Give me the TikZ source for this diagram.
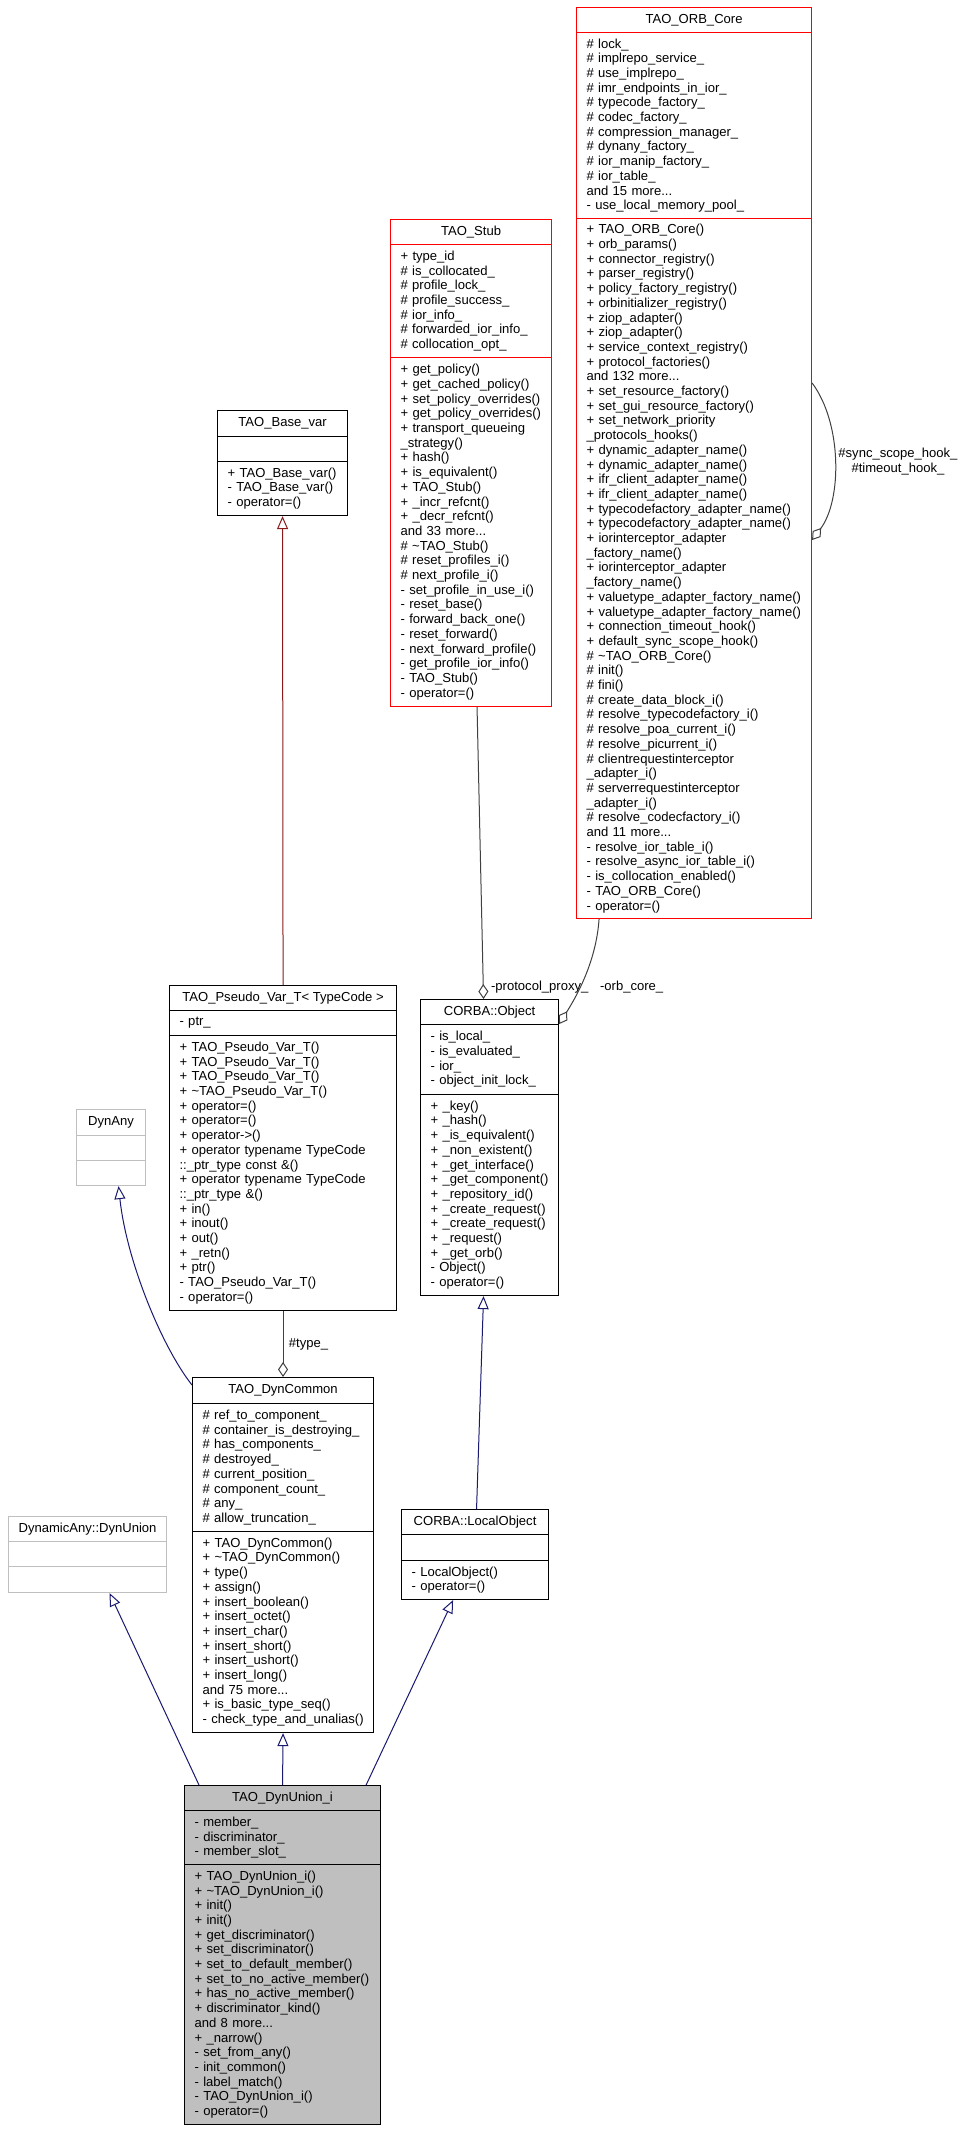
\documentclass[tikz,border=0pt]{standalone}
\usepackage{fontspec}
\setmainfont{Liberation Sans}
\usepackage{tikz}
\usetikzlibrary{arrows.meta}
\usetikzlibrary{calc}
\definecolor{classred}{HTML}{FF0000}
\definecolor{classgray}{HTML}{BFBFBF}
\definecolor{edgeblue}{HTML}{191970}
\definecolor{edgered}{HTML}{8B1A1A}
\definecolor{edgegray}{HTML}{404040}
\newcommand{\dxfont}{\fontsize{13.06}{14.7}\selectfont}
\exhyphenpenalty=10000
\hyphenpenalty=10000
\tikzset{
    classtitle/.style={draw, line width=1.1pt, anchor=north west, inner sep=0pt, minimum height=25pt, align=center},
    classbody/.style={draw, line width=1.1pt, anchor=north west, inner xsep=10pt, inner ysep=0pt, align=left},
    inherit/.style={draw=edgeblue, line width=1pt, -{Triangle[open,length=13pt,width=11pt]}},
    privinherit/.style={inherit, draw=edgered},
    usage/.style={draw=edgegray, line width=1pt, -{Diamond[open,length=15pt,width=10pt]}},
}

\begin{document}
\begin{tikzpicture}[x=1pt,y=-1pt,every node/.append style={font=\dxfont}]
        \useasboundingbox (0,0) rectangle (964,2131);

        %%% TAO_ORB_Core %%%
        \node[classtitle,draw=classred,minimum width=235pt] (orbcore) at (576,7) {TAO\_ORB\_Core};
        \node[classbody,draw=classred,text width=215pt,minimum height=186pt] (orbcore-attr) at (576,32) {\#~lock\_\\
\#~implrepo\_service\_\\
\#~use\_implrepo\_\\
\#~imr\_endpoints\_in\_ior\_\\
\#~typecode\_factory\_\\
\#~codec\_factory\_\\
\#~compression\_manager\_\\
\#~dynany\_factory\_\\
\#~ior\_manip\_factory\_\\
\#~ior\_table\_\\
and 15 more...\\
-~use\_local\_memory\_pool\_};
        \node[classbody,draw=classred,text width=215pt,minimum height=700pt] (orbcore-meth) at (576,218) {+~TAO\_ORB\_Core()\\
+~orb\_params()\\
+~connector\_registry()\\
+~parser\_registry()\\
+~policy\_factory\_registry()\\
+~orbinitializer\_registry()\\
+~ziop\_adapter()\\
+~ziop\_adapter()\\
+~service\_context\_registry()\\
+~protocol\_factories()\\
and 132 more...\\
+~set\_resource\_factory()\\
+~set\_gui\_resource\_factory()\\
+~set\_network\_priority\\
\_protocols\_hooks()\\
+~dynamic\_adapter\_name()\\
+~dynamic\_adapter\_name()\\
+~ifr\_client\_adapter\_name()\\
+~ifr\_client\_adapter\_name()\\
+~typecodefactory\_adapter\_name()\\
+~typecodefactory\_adapter\_name()\\
+~iorinterceptor\_adapter\\
\_factory\_name()\\
+~iorinterceptor\_adapter\\
\_factory\_name()\\
+~valuetype\_adapter\_factory\_name()\\
+~valuetype\_adapter\_factory\_name()\\
+~connection\_timeout\_hook()\\
+~default\_sync\_scope\_hook()\\
\#~\textasciitilde TAO\_ORB\_Core()\\
\#~init()\\
\#~fini()\\
\#~create\_data\_block\_i()\\
\#~resolve\_typecodefactory\_i()\\
\#~resolve\_poa\_current\_i()\\
\#~resolve\_picurrent\_i()\\
\#~clientrequestinterceptor\\
\_adapter\_i()\\
\#~serverrequestinterceptor\\
\_adapter\_i()\\
\#~resolve\_codecfactory\_i()\\
and 11 more...\\
-~resolve\_ior\_table\_i()\\
-~resolve\_async\_ior\_table\_i()\\
-~is\_collocation\_enabled()\\
-~TAO\_ORB\_Core()\\
-~operator=()};

        %%% TAO_Stub %%%
        \node[classtitle,draw=classred,minimum width=161pt] (stub) at (390,219) {TAO\_Stub};
        \node[classbody,draw=classred,text width=141pt,minimum height=113pt] (stub-attr) at (390,244) {+~type\_id\\
\#~is\_collocated\_\\
\#~profile\_lock\_\\
\#~profile\_success\_\\
\#~ior\_info\_\\
\#~forwarded\_ior\_info\_\\
\#~collocation\_opt\_};
        \node[classbody,draw=classred,text width=141pt,minimum height=349pt] (stub-meth) at (390,357) {+~get\_policy()\\
+~get\_cached\_policy()\\
+~set\_policy\_overrides()\\
+~get\_policy\_overrides()\\
+~transport\_queueing\\
\_strategy()\\
+~hash()\\
+~is\_equivalent()\\
+~TAO\_Stub()\\
+~\_incr\_refcnt()\\
+~\_decr\_refcnt()\\
and 33 more...\\
\#~\textasciitilde TAO\_Stub()\\
\#~reset\_profiles\_i()\\
\#~next\_profile\_i()\\
-~set\_profile\_in\_use\_i()\\
-~reset\_base()\\
-~forward\_back\_one()\\
-~reset\_forward()\\
-~next\_forward\_profile()\\
-~get\_profile\_ior\_info()\\
-~TAO\_Stub()\\
-~operator=()};

        %%% TAO_Base_var %%%
        \node[classtitle,minimum width=130pt,minimum height=26pt] (basevar) at (217,410) {TAO\_Base\_var};
        \node[classbody,text width=110pt,minimum height=25pt] (basevar-attr) at (217,436) {};
        \node[classbody,text width=110pt,minimum height=54pt] (basevar-meth) at (217,461) {+~TAO\_Base\_var()\\
-~TAO\_Base\_var()\\
-~operator=()};

        %%% TAO_Pseudo_Var_T %%%
        \node[classtitle,minimum width=227pt] (pseudovar) at (169,985) {TAO\_Pseudo\_Var\_T< TypeCode >};
        \node[classbody,text width=207pt,minimum height=25pt] (pseudovar-attr) at (169,1010) {-~ptr\_};
        \node[classbody,text width=207pt,minimum height=275pt] (pseudovar-meth) at (169,1035) {+~TAO\_Pseudo\_Var\_T()\\
+~TAO\_Pseudo\_Var\_T()\\
+~TAO\_Pseudo\_Var\_T()\\
+~\textasciitilde TAO\_Pseudo\_Var\_T()\\
+~operator=()\\
+~operator=()\\
+~operator->()\\
+~operator typename TypeCode\\
::\_ptr\_type const \&()\\
+~operator typename TypeCode\\
::\_ptr\_type \&()\\
+~in()\\
+~inout()\\
+~out()\\
+~\_retn()\\
+~ptr()\\
-~TAO\_Pseudo\_Var\_T()\\
-~operator=()};

        %%% CORBA::Object %%%
        \node[classtitle,minimum width=138pt] (object) at (420,999) {CORBA::Object};
        \node[classbody,text width=118pt,minimum height=70pt] (object-attr) at (420,1024) {-~is\_local\_\\
-~is\_evaluated\_\\
-~ior\_\\
-~object\_init\_lock\_};
        \node[classbody,text width=118pt,minimum height=201pt] (object-meth) at (420,1094) {+~\_key()\\
+~\_hash()\\
+~\_is\_equivalent()\\
+~\_non\_existent()\\
+~\_get\_interface()\\
+~\_get\_component()\\
+~\_repository\_id()\\
+~\_create\_request()\\
+~\_create\_request()\\
+~\_request()\\
+~\_get\_orb()\\
-~Object()\\
-~operator=()};

        %%% DynAny %%%
        \node[classtitle,draw=classgray,minimum width=69pt,minimum height=26pt] (dynany) at (76,1109) {DynAny};
        \node[classbody,draw=classgray,text width=49pt,minimum height=25pt] (dynany-attr) at (76,1135) {};
        \node[classbody,draw=classgray,text width=49pt,minimum height=25pt] (dynany-meth) at (76,1160) {};

        %%% TAO_DynCommon %%%
        \node[classtitle,minimum width=181pt,minimum height=26pt] (dyncommon) at (192,1377) {TAO\_DynCommon};
        \node[classbody,text width=161pt,minimum height=128pt] (dyncommon-attr) at (192,1403) {\#~ref\_to\_component\_\\
\#~container\_is\_destroying\_\\
\#~has\_components\_\\
\#~destroyed\_\\
\#~current\_position\_\\
\#~component\_count\_\\
\#~any\_\\
\#~allow\_truncation\_};
        \node[classbody,text width=161pt,minimum height=201pt] (dyncommon-meth) at (192,1531) {+~TAO\_DynCommon()\\
+~\textasciitilde TAO\_DynCommon()\\
+~type()\\
+~assign()\\
+~insert\_boolean()\\
+~insert\_octet()\\
+~insert\_char()\\
+~insert\_short()\\
+~insert\_ushort()\\
+~insert\_long()\\
and 75 more...\\
+~is\_basic\_type\_seq()\\
-~check\_type\_and\_unalias()};

        %%% DynamicAny::DynUnion %%%
        \node[classtitle,draw=classgray,minimum width=158pt] (dynunion) at (8,1516) {DynamicAny::DynUnion};
        \node[classbody,draw=classgray,text width=138pt,minimum height=25pt] (dynunion-attr) at (8,1541) {};
        \node[classbody,draw=classgray,text width=138pt,minimum height=26pt] (dynunion-meth) at (8,1566) {};

        %%% CORBA::LocalObject %%%
        \node[classtitle,minimum width=147pt] (localobject) at (401,1509) {CORBA::LocalObject};
        \node[classbody,text width=127pt,minimum height=26pt] (localobject-attr) at (401,1534) {};
        \node[classbody,text width=127pt,minimum height=39pt] (localobject-meth) at (401,1560) {-~LocalObject()\\
-~operator=()};

        %%% TAO_DynUnion_i %%%
        \node[classtitle,fill=classgray,minimum width=196pt] (dynunioni) at (184,1785) {TAO\_DynUnion\_i};
        \node[classbody,fill=classgray,text width=176pt,minimum height=54pt] (dynunioni-attr) at (184,1810) {-~member\_\\
-~discriminator\_\\
-~member\_slot\_};
        \node[classbody,fill=classgray,text width=176pt,minimum height=260pt] (dynunioni-meth) at (184,1864) {+~TAO\_DynUnion\_i()\\
+~\textasciitilde TAO\_DynUnion\_i()\\
+~init()\\
+~init()\\
+~get\_discriminator()\\
+~set\_discriminator()\\
+~set\_to\_default\_member()\\
+~set\_to\_no\_active\_member()\\
+~has\_no\_active\_member()\\
+~discriminator\_kind()\\
and 8 more...\\
+~\_narrow()\\
-~set\_from\_any()\\
-~init\_common()\\
-~label\_match()\\
-~TAO\_DynUnion\_i()\\
-~operator=()};

        %%% INHERITANCE %%%
        \draw[inherit] (dynunioni.north) -- (dyncommon-meth.south);
        \draw[inherit] ([xshift=15pt]dynunioni.north west) -- ([xshift=22pt]dynunion-meth.south);
        \draw[inherit] ([xshift=-15pt]dynunioni.north east) -- ([xshift=-22pt]localobject-meth.south);
        \draw[inherit] ([xshift=1.5pt]localobject.north) -- ([xshift=-6pt]object-meth.south);
        \draw[inherit] ([yshift=-8pt]dyncommon.north west) .. controls +(-30,-38) and +(8,75) .. ([xshift=7.5pt]dynany-meth.south);
        \draw[privinherit] (pseudovar.north) -- (basevar-meth.south);

        %%% USAGE %%%
        \draw[usage] (pseudovar-meth.south) -- node[right,xshift=2pt]{\#type\_} (dyncommon.north);
        \draw[usage] ([xshift=6pt]stub-meth.south) -- node[pos=0.96,right,xshift=4pt]{-protocol\_proxy\_} ([xshift=-6pt]object.north);
        \draw[usage] ([xshift=-95pt]orbcore-meth.south) .. controls +(-3,45) and +(15,-24) .. ([yshift=1pt]object.south east) node[pos=0.57,anchor=west,xshift=16pt]{-orb\_core\_};
        \draw[usage] ([yshift=-165pt]orbcore-meth.north east) .. controls +(30,40) and +(30,-40) .. ([yshift=-322pt]orbcore-meth.north east) node[pos=0.5,right,align=center]{\#sync\_scope\_hook\_\\\#timeout\_hook\_};
\end{tikzpicture}
\end{document}
